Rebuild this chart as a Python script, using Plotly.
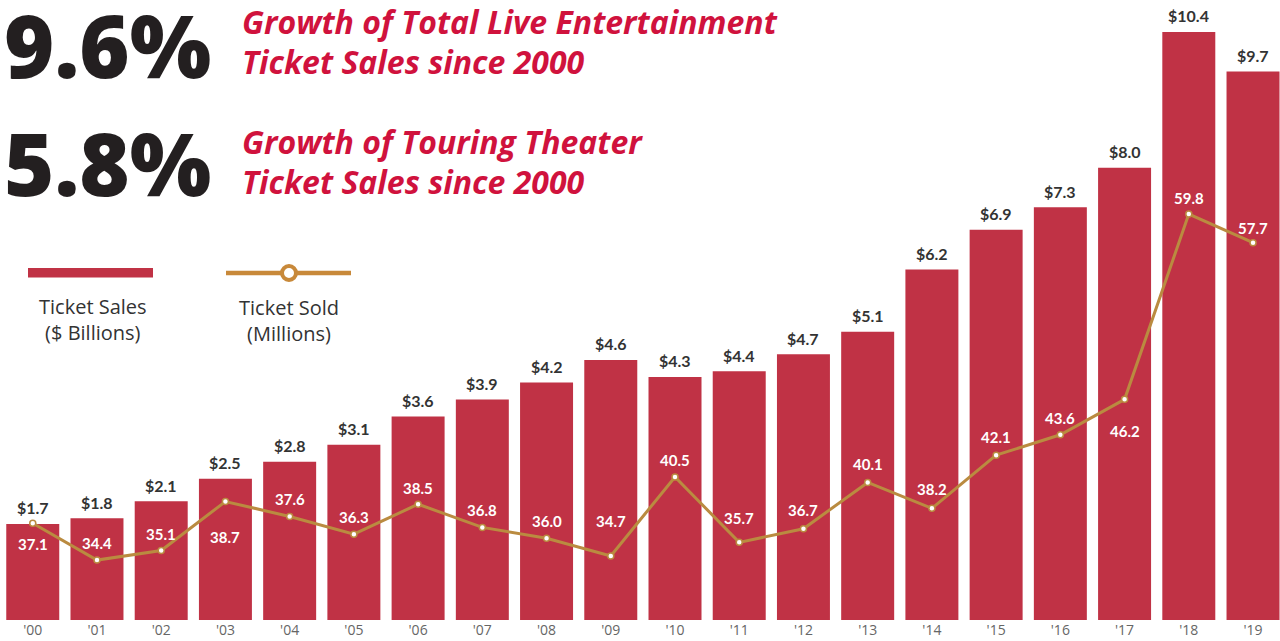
import plotly.graph_objects as go

# ---- data ----
years = ["'00", "'01", "'02", "'03", "'04", "'05", "'06", "'07", "'08", "'09",
         "'10", "'11", "'12", "'13", "'14", "'15", "'16", "'17", "'18", "'19"]
sales = [1.7, 1.8, 2.1, 2.5, 2.8, 3.1, 3.6, 3.9, 4.2, 4.6,
         4.3, 4.4, 4.7, 5.1, 6.2, 6.9, 7.3, 8.0, 10.4, 9.7]
sold = [37.1, 34.4, 35.1, 38.7, 37.6, 36.3, 38.5, 36.8, 36.0, 34.7,
        40.5, 35.7, 36.7, 40.1, 38.2, 42.1, 43.6, 46.2, 59.8, 57.7]
sales_labels = ["$%.1f" % v for v in sales]
sold_labels = ["%.1f" % v for v in sold]

# label offsets (px, positive = up) for the ticket-sold labels
sold_label_shift = [-21, 17, 17, -35, 17, 17, 16, 17, 17, 35,
                    17, 24, 19, 18, 19, 18, 17, -32, 16, 15]

W, H = 1280, 641
T, B = 20, 21
PLOT_H = H - T - B

BAR = "#C03245"
GOLD = "#BA8B40"
RED_TXT = "#D0123D"
DARK = "#231F20"


def px(x):
    return x / W


def py(y):
    return (H - B - y) / PLOT_H


fig = go.Figure()
fig.add_trace(go.Bar(x=list(range(len(years))), y=sales, marker_color=BAR,
                     marker_line_width=0, yaxis="y", hoverinfo="skip"))
fig.add_trace(go.Scatter(x=list(range(len(years))), y=sold, yaxis="y2",
                         mode="lines+markers",
                         line=dict(color=GOLD, width=3),
                         marker=dict(size=6, color="white",
                                     line=dict(color=GOLD, width=1.5)),
                         hoverinfo="skip"))

ann = []
for i, (v, t) in enumerate(zip(sales, sales_labels)):
    ann.append(dict(x=i, y=v, xref="x", yref="y", text=t, showarrow=False,
                    yanchor="middle", yshift=16,
                    font=dict(family="Lato", size=16, color="#333333", weight="bold")))
for i, (v, t) in enumerate(zip(sold, sold_labels)):
    ann.append(dict(x=i, y=v, xref="x", yref="y2", text=t, showarrow=False,
                    yanchor="middle", yshift=sold_label_shift[i],
                    font=dict(family="Lato", size=15, color="white", weight="bold")))

# headline numbers and text
for txt, yy in [("9.6%", 45), ("5.8%", 163)]:
    ann.append(dict(x=px(2), y=py(yy), xref="paper", yref="paper", text=txt,
                    showarrow=False, xanchor="left", yanchor="middle",
                    font=dict(family="Open Sans", size=86, color=DARK, weight=800)))
for txt, yy in [("<i>Growth of Total Live Entertainment</i>", 22),
                ("<i>Ticket Sales since 2000</i>", 62),
                ("<i>Growth of Touring Theater</i>", 141),
                ("<i>Ticket Sales since 2000</i>", 181)]:
    ann.append(dict(x=px(240), y=py(yy), xref="paper", yref="paper", text=txt,
                    showarrow=False, xanchor="left", yanchor="middle",
                    font=dict(family="Open Sans", size=32, color=RED_TXT, weight="bold")))

# legend texts
for txt, xx, yy in [("Ticket Sales<br>($ Billions)", 93, 319),
                    ("Ticket Sold<br>(Millions)", 289, 320)]:
    ann.append(dict(x=px(xx), y=py(yy), xref="paper", yref="paper", text=txt,
                    showarrow=False, xanchor="center", yanchor="middle",
                    align="center",
                    font=dict(family="Open Sans", size=20, color="#333333")))

shapes = [
    dict(type="rect", xref="paper", yref="paper", x0=px(28), x1=px(153),
         y0=py(277.5), y1=py(268), fillcolor=BAR, line_width=0),
    dict(type="line", xref="paper", yref="paper", x0=px(226), x1=px(351),
         y0=py(273), y1=py(273), line=dict(color="#C8893A", width=4.5)),
    dict(type="circle", xref="paper", yref="paper", x0=px(282), x1=px(296),
         y0=py(280), y1=py(266), fillcolor="white",
         line=dict(color="#C8893A", width=4)),
]

fig.update_layout(
    width=W, height=H, margin=dict(l=0, r=0, t=T, b=B),
    paper_bgcolor="white", plot_bgcolor="white",
    showlegend=False, bargap=0.175,
    xaxis=dict(range=[-0.51, 19.42], tickmode="array",
               tickvals=list(range(len(years))), ticktext=years,
               showgrid=False, zeroline=False, showline=False, ticks="",
               tickfont=dict(family="Open Sans", size=14, color="#666666"),
               automargin=False),
    yaxis=dict(range=[0, 600 / 56.54], visible=False, fixedrange=True),
    yaxis2=dict(range=[30, 74.05], overlaying="y", visible=False),
    annotations=ann, shapes=shapes,
)

fig.write_html("out.html", config={"displayModeBar": False},
               post_script="document.body.style.margin='0';")
